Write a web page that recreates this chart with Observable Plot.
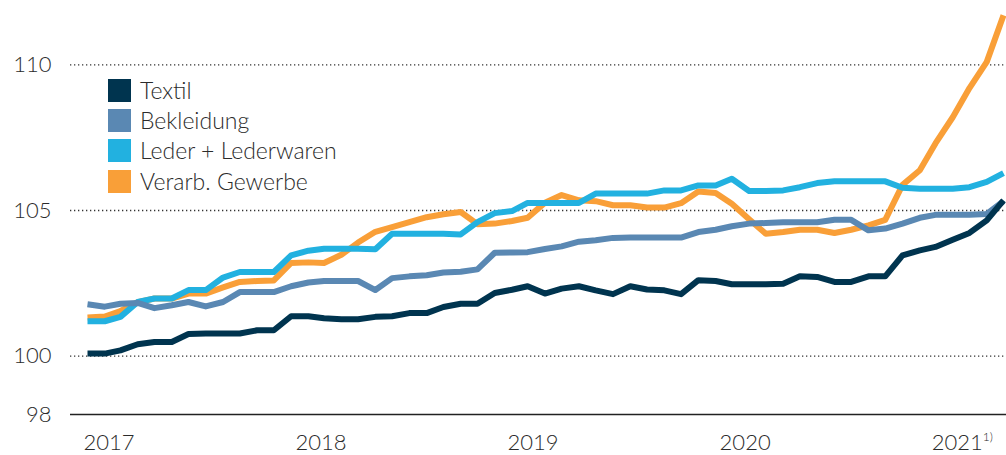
<!DOCTYPE html>
<html>
<head>
<meta charset="utf-8">
<script src="https://cdn.jsdelivr.net/npm/d3@7"></script>
<script src="https://cdn.jsdelivr.net/npm/@observablehq/plot@0.6"></script>
<style>
  body { margin: 0; background: #fff; }
  #wrap { position: relative; width: 1006px; height: 455px; font-family: Lato, "Open Sans", sans-serif; font-weight: 300; color: #2b2b2b; }
  .legend { position: absolute; left: 108px; top: 75px; }
  .legend .row { display: flex; align-items: center; height: 30.4px; font-size: 23px; line-height: 1; }
  .legend .sw { width: 23px; height: 23px; margin-right: 9px; flex: none; }
</style>
</head>
<body>
<div id="wrap"></div>
<script>
// Series names and colours
const seriesNames = ["Textil", "Bekleidung", "Leder + Lederwaren", "Verarb. Gewerbe"];
const seriesColors = ["#00344f", "#5a88b3", "#22b1e0", "#f99f38"];

// Monthly values Jan 2017 – Jul 2021
const textil = [100.09,100.09,100.2,100.41,100.49,100.49,100.76,100.78,100.78,100.78,100.89,100.89,
  101.37,101.37,101.3,101.27,101.27,101.35,101.37,101.48,101.48,101.69,101.8,101.8,
  102.17,102.28,102.4,102.15,102.32,102.4,102.26,102.13,102.4,102.29,102.26,102.13,
  102.61,102.58,102.47,102.47,102.47,102.49,102.74,102.72,102.55,102.55,102.74,102.74,
  103.46,103.63,103.75,104.0,104.23,104.66,105.35];
const bekleidung = [101.78,101.7,101.8,101.83,101.65,101.75,101.86,101.71,101.86,102.2,102.2,102.2,
  102.4,102.53,102.58,102.58,102.58,102.27,102.68,102.74,102.78,102.87,102.9,102.98,
  103.55,103.56,103.57,103.68,103.77,103.93,103.98,104.06,104.07,104.07,104.07,104.07,
  104.26,104.34,104.46,104.55,104.57,104.6,104.6,104.6,104.68,104.68,104.32,104.38,
  104.55,104.75,104.85,104.85,104.85,104.88,105.32];
const leder = [101.2,101.2,101.35,101.86,101.98,101.98,102.27,102.27,102.7,102.89,102.89,102.89,
  103.46,103.62,103.69,103.69,103.69,103.67,104.2,104.2,104.2,104.2,104.18,104.6,
  104.91,104.98,105.26,105.26,105.26,105.26,105.58,105.58,105.58,105.58,105.69,105.69,
  105.86,105.86,106.09,105.67,105.67,105.69,105.8,105.94,106.0,106.0,106.0,106.0,
  105.78,105.75,105.75,105.75,105.8,105.98,106.28];
const verarb = [101.33,101.36,101.55,101.85,101.98,101.98,102.15,102.15,102.36,102.55,102.58,102.6,
  103.2,103.22,103.2,103.48,103.9,104.27,104.43,104.6,104.77,104.87,104.95,104.53,
  104.55,104.64,104.75,105.27,105.53,105.35,105.32,105.18,105.18,105.1,105.1,105.25,
  105.65,105.6,105.23,104.7,104.2,104.26,104.34,104.34,104.23,104.34,104.49,104.68,
  105.88,106.38,107.3,108.2,109.2,110.1,111.7];

// Axis labels
const yTicks = [98, 100, 105, 110];
const gridValues = [100, 105, 110];
const yearLabels = ["2017", "2018", "2019", "2020", "2021"];

const months = d3.utcMonths(new Date(Date.UTC(2017, 0, 1)), new Date(Date.UTC(2021, 7, 1)));
const seriesValues = [textil, bekleidung, leder, verarb];
const rows = seriesValues.map((vals, s) => vals.map((v, i) => ({series: seriesNames[s], date: months[i], value: v})));

// year labels spread evenly along the axis (≈12.5 months apart)
const t0 = +months[0], tEnd = +months[months.length - 1];
const monthMs = (tEnd - t0) / (months.length - 1);
const yearPos = yearLabels.map((y, k) => ({label: y, date: new Date(t0 + k * 12.5 * monthMs)}));

const drawOrder = [3, 2, 1, 0];

const chart = Plot.plot({
  width: 1006,
  height: 455,
  marginLeft: 87,
  marginRight: 3,
  marginTop: 6,
  marginBottom: 41,
  style: {fontFamily: "Lato, 'Open Sans', sans-serif", fontSize: "22px", fontWeight: 300, color: "#2b2b2b", background: "#fff", overflow: "visible"},
  x: {type: "utc", domain: [months[0], months[months.length - 1]], axis: null},
  y: {domain: [98, 112], axis: null},
  marks: [
    Plot.ruleY(gridValues, {stroke: "#333", strokeWidth: 1.3, strokeDasharray: "1.3,2.7", insetLeft: -17, insetRight: -3}),
    Plot.ruleY([98], {stroke: "#222", strokeWidth: 1.6, insetLeft: -17, insetRight: -3}),
    Plot.axisY({ticks: yTicks, tickSize: 0, tickPadding: 36, fontSize: 22, fill: "#2b2b2b", label: null}),
    ...drawOrder.map(s => Plot.lineY(rows[s], {x: "date", y: "value", stroke: seriesColors[s], strokeWidth: 6, strokeLinejoin: "round", strokeLinecap: "butt"})),
    Plot.text(yearPos, {x: "date", text: "label", frameAnchor: "bottom", dy: 28, dx: -4, textAnchor: "start", lineAnchor: "middle", fontSize: 22, fill: "#2b2b2b"})
  ]
});

d3.select(chart).selectAll("text").filter(function() { return this.textContent === "2021"; })
  .append("tspan").attr("font-size", 12).attr("dy", "-0.75em").text("1)");

const wrap = document.getElementById("wrap");
wrap.appendChild(chart);

const legend = document.createElement("div");
legend.className = "legend";
seriesNames.forEach((name, i) => {
  const row = document.createElement("div");
  row.className = "row";
  const sw = document.createElement("span");
  sw.className = "sw";
  sw.style.background = seriesColors[i];
  const lab = document.createElement("span");
  lab.textContent = name;
  row.appendChild(sw);
  row.appendChild(lab);
  legend.appendChild(row);
});
wrap.appendChild(legend);
</script>
</body>
</html>
